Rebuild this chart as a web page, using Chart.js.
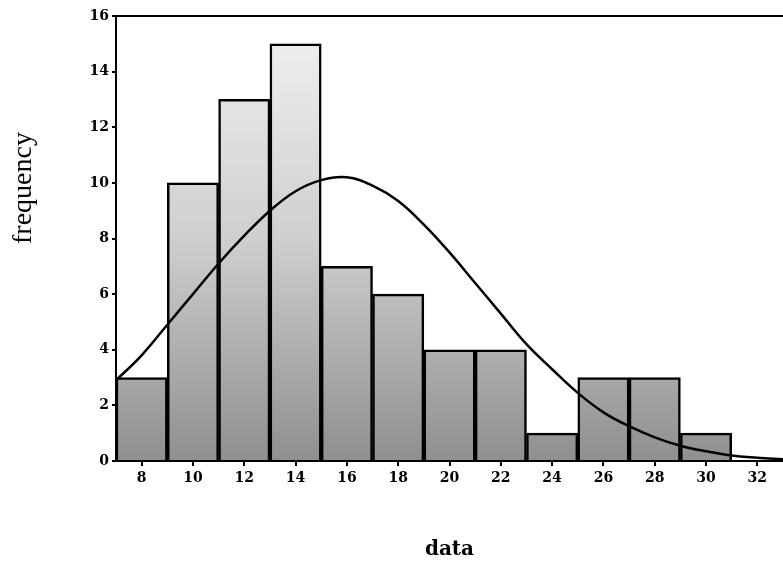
<!DOCTYPE html>
<html>
<head>
<meta charset="utf-8">
<script src="https://cdn.jsdelivr.net/npm/chart.js@4"></script>
<style>
  html, body { margin: 0; padding: 0; background: #fff; }
  #wrap { width: 783px; height: 566px; }
</style>
</head>
<body>
<div id="wrap"><canvas id="myChart"></canvas></div>
<script>
// histogram bins (centres, width 2) and counts
const binCenters = [8, 10, 12, 14, 16, 18, 20, 22, 24, 26, 28, 30];
const counts = [3, 10, 13, 15, 7, 6, 4, 4, 1, 3, 3, 1];

// fitted normal curve
const curveX = [7, 8, 9, 10, 11, 12, 13, 14, 15, 16, 17, 18, 19, 20,
  21, 22, 23, 24, 25, 26, 27, 28, 29, 30, 31, 32, 33];
const curveY = [2.9, 3.8, 4.9, 6.0, 7.1, 8.1, 9.0, 9.7, 10.1, 10.2, 9.9, 9.35, 8.5, 7.5,
  6.4, 5.3, 4.2, 3.3, 2.45, 1.75, 1.25, 0.85, 0.55, 0.35, 0.2, 0.12, 0.06];

const xTicks = [8, 10, 12, 14, 16, 18, 20, 22, 24, 26, 28, 30, 32];
const yTicks = [0, 2, 4, 6, 8, 10, 12, 14, 16];

const tickFont = { family: "'DejaVu Serif', serif", size: 14, weight: "bold" };

// stipple-ish shading: lighter near the top, darker at the base
const barFill = function (context) {
  const area = context.chart.chartArea;
  if (!area) return "#cccccc";
  const g = context.chart.ctx.createLinearGradient(0, area.top, 0, area.bottom);
  g.addColorStop(0, "#f2f2f2");
  g.addColorStop(0.5, "#cfcfcf");
  g.addColorStop(1, "#8f8f8f");
  return g;
};

// frame line along the top, and the y title which sits above the axis middle
const frame = {
  id: "frame",
  afterDraw(chart) {
    const { ctx, chartArea } = chart;
    ctx.save();
    ctx.strokeStyle = "#000";
    ctx.lineWidth = 2;
    ctx.beginPath();
    ctx.moveTo(chartArea.left, chartArea.top);
    ctx.lineTo(chartArea.right, chartArea.top);
    ctx.stroke();

    ctx.translate(24, 188);
    ctx.rotate(-Math.PI / 2);
    ctx.fillStyle = "#000";
    ctx.font = "28px 'Liberation Serif', serif";
    ctx.textAlign = "center";
    ctx.textBaseline = "middle";
    ctx.fillText("frequency", 0, 0);
    ctx.restore();
  }
};

const ctx = document.getElementById("myChart");
const chart = new Chart(ctx, {
  type: "bar",
  data: {
    datasets: [
      {
        type: "line",
        label: "normal",
        data: curveX.map((x, i) => ({ x: x, y: curveY[i] })),
        borderColor: "#000",
        borderWidth: 2.5,
        pointRadius: 0,
        tension: 0.4,
        order: 0,
      },
      {
        label: "frequency",
        data: binCenters.map((x, i) => ({ x: x, y: counts[i] })),
        backgroundColor: barFill,
        borderColor: "#000",
        borderWidth: 2.5,
        barPercentage: 1,
        categoryPercentage: 1,
        order: 1,
      },
    ],
  },
  options: {
    responsive: true,
    maintainAspectRatio: false,
    animation: false,
    layout: { padding: { top: 16, right: 0, left: 0, bottom: 0 } },
    plugins: {
      legend: { display: false },
      tooltip: { enabled: false },
    },
    scales: {
      x: {
        type: "linear",
        min: 7,
        max: 33,
        offset: false,
        afterBuildTicks: (scale) => { scale.ticks = xTicks.map(v => ({ value: v })); },
        afterFit: (scale) => { scale.height = 105; },
        grid: { display: true, offset: false, drawOnChartArea: false, tickLength: 5, tickColor: "#000", lineWidth: 2 },
        border: { display: true, color: "#000", width: 2 },
        ticks: { color: "#000", font: tickFont, padding: 4, maxRotation: 0 },
        title: {
          display: true,
          text: "data",
          color: "#000",
          font: { family: "'DejaVu Serif', serif", size: 20, weight: "bold" },
          padding: { top: 44 },
        },
      },
      y: {
        min: 0,
        max: 16,
        afterBuildTicks: (scale) => { scale.ticks = yTicks.map(v => ({ value: v })); },
        afterFit: (scale) => { scale.width = 116; },
        grid: { display: true, drawOnChartArea: false, tickLength: 4, tickColor: "#000", lineWidth: 2 },
        border: { display: true, color: "#000", width: 2 },
        ticks: { color: "#000", font: tickFont, padding: 3 },
      },
    },
  },
  plugins: [frame],
});
</script>
</body>
</html>
